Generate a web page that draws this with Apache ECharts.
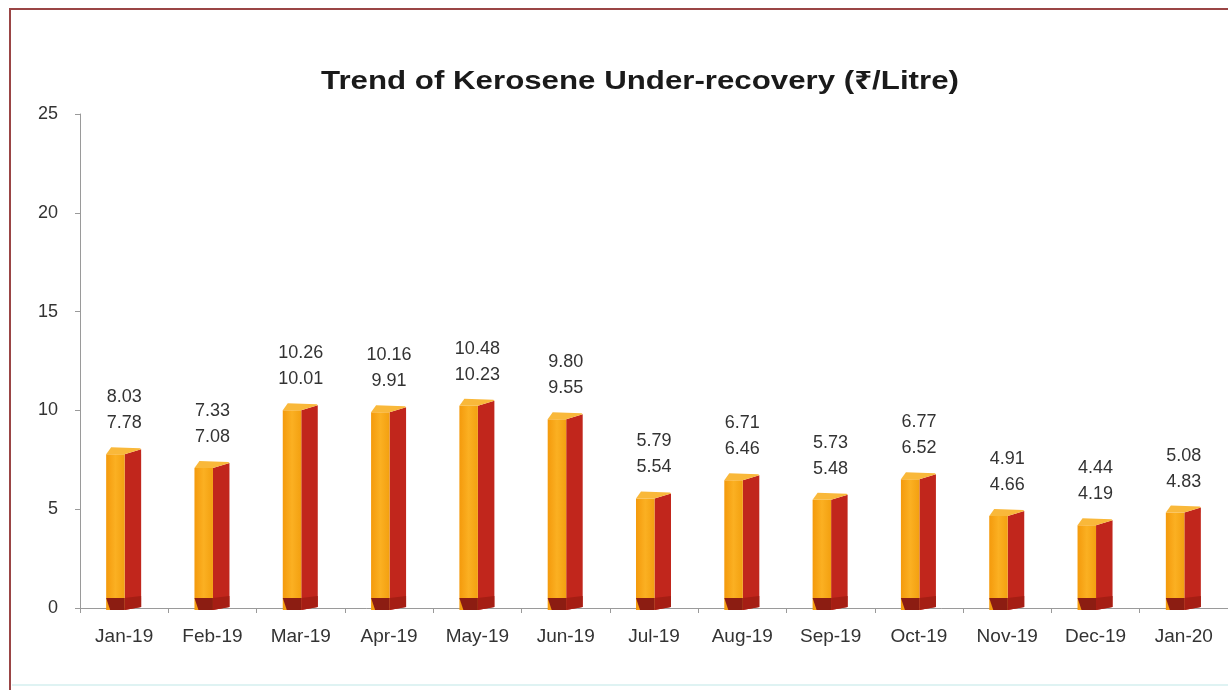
<!DOCTYPE html>
<html>
<head>
<meta charset="utf-8">
<script src="https://cdn.jsdelivr.net/npm/echarts@6/dist/echarts.min.js"></script>
<style>html,body{margin:0;padding:0;background:#fff;}#chart{width:1228px;height:690px;}</style>
</head>
<body>
<div id="chart"></div>
<script>
const categories = ['Jan-19','Feb-19','Mar-19','Apr-19','May-19','Jun-19','Jul-19','Aug-19','Sep-19','Oct-19','Nov-19','Dec-19','Jan-20'];
const upperValues = [8.03, 7.33, 10.26, 10.16, 10.48, 9.80, 5.79, 6.71, 5.73, 6.77, 4.91, 4.44, 5.08];
const lowerValues = [7.78, 7.08, 10.01, 9.91, 10.23, 9.55, 5.54, 6.46, 5.48, 6.52, 4.66, 4.19, 4.83];
const yTicks = [0, 5, 10, 15, 20, 25];
const titleText = 'Trend of Kerosene Under-recovery (₹/Litre)';

const chart = echarts.init(document.getElementById('chart'), null, {renderer: 'canvas'});

const data = categories.map((c, i) => [i, lowerValues[i], upperValues[i]]);

function renderBar(params, api) {
  const idx = api.value(0);
  const v = api.value(1);
  const up = upperValues[idx];
  const lo = lowerValues[idx];
  const pTop = api.coord([idx, v]);
  const pBase = api.coord([idx, 0]);
  const cx = pTop[0];
  const xl = cx - 18, xm = cx + 0.5, xr = cx + 17;
  const yt = pTop[1], yb = pBase[1] + 2;
  const d = 7;
  return {
    type: 'group',
    children: [
      { type: 'polygon', shape: { points: [[xm, yt], [xr, yt - d + 2], [xr, yb - 3], [xm, yb]] },
        style: { fill: '#c1261c' } },
      { type: 'rect', shape: { x: xl, y: yt, width: xm - xl, height: yb - yt },
        style: { fill: new echarts.graphic.LinearGradient(0, 0, 1, 0, [
          {offset: 0, color: '#f49a0c'}, {offset: 0.5, color: '#fbb022'}, {offset: 1, color: '#f3a010'}]) } },
      { type: 'polygon', shape: { points: [[xl, yt], [xl + 5, yt - d], [xr - 1, yt - d + 1], [xr, yt - d + 2], [xm, yt]] },
        style: { fill: '#f9b83a' } },
      { type: 'polygon', shape: { points: [[xl, yb - 12], [xm, yb - 12], [xm, yb], [xl + 4, yb]] },
        style: { fill: '#8c1d12' } },
      { type: 'polygon', shape: { points: [[xm, yb - 12], [xr, yb - 14], [xr, yb - 3], [xm, yb]] },
        style: { fill: '#a51e14' } },
      { type: 'text',
        style: { text: up.toFixed(2) + '\n' + lo.toFixed(2), x: cx, y: yt - 18,
                 align: 'center', verticalAlign: 'bottom', textAlign: 'center', textVerticalAlign: 'bottom',
                 fontSize: 18, fontFamily: '"Liberation Sans", Arial, sans-serif', lineHeight: 26, fill: '#333' } }
    ]
  };
}

const option = {
  animation: false,
  backgroundColor: '#ffffff',
  graphic: [
    { type: 'text', x: 640, y: 82, scaleX: 1.25, scaleY: 1,
      style: { text: titleText, align: 'center', verticalAlign: 'middle', textAlign: 'center', textVerticalAlign: 'middle',
               fontSize: 25, fontWeight: 'bold', fill: '#1a1a1a', fontFamily: '"Liberation Sans", "Noto Sans", Arial, sans-serif' } },
    { type: 'rect', shape: { x: 10, y: 9, width: 1240, height: 700 }, style: { fill: 'none', stroke: '#9a4545', lineWidth: 2 }, z: 100 },
    { type: 'line', shape: { x1: 12, y1: 685, x2: 1228, y2: 685 }, style: { stroke: '#dff3f3', lineWidth: 2 }, z: 99 }
  ],
  grid: { left: 80, right: -12, top: 114, bottom: 82 },
  xAxis: {
    type: 'category', data: categories,
    axisLine: { lineStyle: { color: '#9a9a9a', width: 1 } },
    axisTick: { show: true, length: 5, lineStyle: { color: '#9a9a9a' } },
    axisLabel: { fontSize: 19, color: '#333', margin: 19, fontFamily: '"Liberation Sans", Arial, sans-serif' }
  },
  yAxis: {
    type: 'value', min: yTicks[0], max: yTicks[yTicks.length - 1], interval: 5,
    axisLine: { show: true, lineStyle: { color: '#9a9a9a', width: 1 } },
    axisTick: { show: true, length: 5, lineStyle: { color: '#9a9a9a' } },
    splitLine: { show: false },
    axisLabel: { fontSize: 18, color: '#333', margin: 22, fontFamily: '"Liberation Sans", Arial, sans-serif' }
  },
  series: [{
    type: 'custom',
    renderItem: renderBar,
    data: data,
    encode: { x: 0, y: 1 },
    clip: false
  }]
};
chart.setOption(option);
</script>
</body>
</html>
